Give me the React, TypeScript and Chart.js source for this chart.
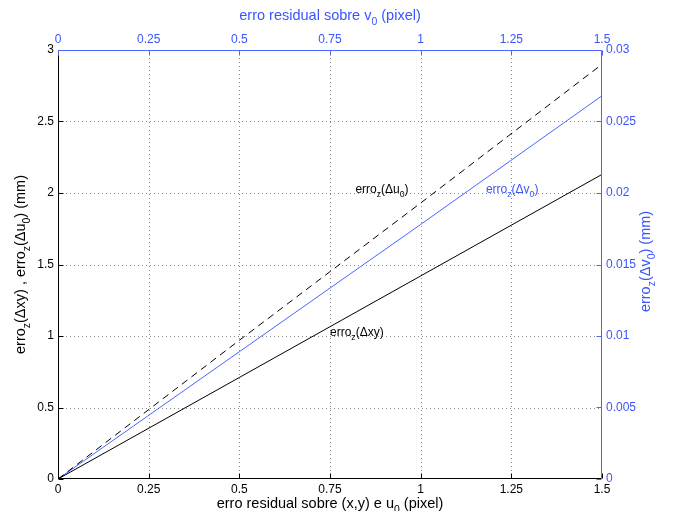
import React, { useEffect, useRef } from "react";
import { Chart, registerables } from "chart.js";

Chart.register(...registerables);

// ---- data ----
const xValues = [0, 0.5, 1, 1.5];
const erroXY = [0, 0.71, 1.42, 2.13];
const erroU0 = [0, 0.97, 1.93, 2.9];
const erroV0 = [0, 0.0089, 0.0178, 0.0268];

const xTicks = [0, 0.25, 0.5, 0.75, 1, 1.25, 1.5];
const leftTicks = [0, 0.5, 1, 1.5, 2, 2.5, 3];
const rightTicks = [0, 0.005, 0.01, 0.015, 0.02, 0.025, 0.03];

type Seg = [string, boolean?];
const bottomTitle: Seg[] = [["erro residual sobre (x,y) e u"], ["0", true], [" (pixel)"]];
const topTitle: Seg[] = [["erro residual sobre v"], ["0", true], [" (pixel)"]];
const leftTitle: Seg[] = [["erro"], ["z", true], ["(\u0394xy) , erro"], ["z", true], ["(\u0394u"], ["0", true], [") (mm)"]];
const rightTitle: Seg[] = [["erro"], ["z", true], ["(\u0394v"], ["0", true], [") (mm)"]];
const labelU0: Seg[] = [["erro"], ["z", true], ["(\u0394u"], ["0", true], [")"]];
const labelV0: Seg[] = [["erro"], ["z", true], ["(\u0394v"], ["0", true], [")"]];
const labelXY: Seg[] = [["erro"], ["z", true], ["(\u0394xy)"]];

const FONT = "'Liberation Sans', Arial, Helvetica, sans-serif";
const BLUE = "#3a55ff";
const BLUE_LINE = "#4a66ff";

const fmt = (v: any) => String(+Number(v).toFixed(4));

function drawRich(
  ctx: CanvasRenderingContext2D,
  segs: Seg[],
  x: number,
  y: number,
  align: "left" | "center",
  size: number,
  color: string
) {
  const subSize = size * 0.72;
  let total = 0;
  const widths = segs.map(([t, sub]) => {
    ctx.font = `${sub ? subSize : size}px ${FONT}`;
    const w = ctx.measureText(t).width;
    total += w;
    return w;
  });
  let cx = align === "center" ? x - total / 2 : x;
  ctx.fillStyle = color;
  ctx.textAlign = "left";
  ctx.textBaseline = "alphabetic";
  segs.forEach(([t, sub], i) => {
    ctx.font = `${sub ? subSize : size}px ${FONT}`;
    ctx.fillText(t, cx, sub ? y + size * 0.32 : y);
    cx += widths[i];
  });
}

const framePlugin = {
  id: "matlabFrame",
  beforeDatasetsDraw(chart: any) {
    const { ctx, chartArea: a, scales } = chart;
    ctx.save();
    ctx.strokeStyle = "#8a8a8a";
    ctx.lineWidth = 1;
    ctx.setLineDash([1, 3]);
    xTicks.slice(1, -1).forEach((v) => {
      const px = Math.round(scales.x.getPixelForValue(v)) + 0.5;
      ctx.beginPath();
      ctx.moveTo(px, a.top);
      ctx.lineTo(px, a.bottom);
      ctx.stroke();
    });
    leftTicks.slice(1, -1).forEach((v) => {
      const py = Math.round(scales.y.getPixelForValue(v)) + 0.5;
      ctx.beginPath();
      ctx.moveTo(a.left, py);
      ctx.lineTo(a.right, py);
      ctx.stroke();
    });
    ctx.restore();
  },
  afterDatasetsDraw(chart: any) {
    const { ctx, chartArea: a, scales } = chart;
    const L = Math.round(a.left) + 0.5;
    const R = Math.round(a.right) - 0.5;
    const T = Math.round(a.top) + 0.5;
    const B = Math.round(a.bottom) - 0.5;
    const tl = 5;
    ctx.save();
    ctx.setLineDash([]);
    ctx.lineWidth = 1;
    // bottom + left (black)
    ctx.strokeStyle = "#000";
    ctx.beginPath();
    ctx.moveTo(L, T);
    ctx.lineTo(L, B);
    ctx.lineTo(R, B);
    xTicks.forEach((v) => {
      const px = Math.round(scales.x.getPixelForValue(v)) + 0.5;
      ctx.moveTo(px, B);
      ctx.lineTo(px, B - tl);
    });
    leftTicks.forEach((v) => {
      const py = Math.round(scales.y.getPixelForValue(v)) + 0.5;
      ctx.moveTo(L, py);
      ctx.lineTo(L + tl, py);
    });
    ctx.stroke();
    // top + right (blue)
    ctx.strokeStyle = BLUE_LINE;
    ctx.beginPath();
    ctx.moveTo(L, T);
    ctx.lineTo(R, T);
    ctx.lineTo(R, B);
    xTicks.forEach((v) => {
      const px = Math.round(scales.x2.getPixelForValue(v)) + 0.5;
      ctx.moveTo(px, T);
      ctx.lineTo(px, T + tl);
    });
    rightTicks.forEach((v) => {
      const py = Math.round(scales.y2.getPixelForValue(v)) + 0.5;
      ctx.moveTo(R, py);
      ctx.lineTo(R - tl, py);
    });
    ctx.stroke();

    // axis titles
    const midX = (a.left + a.right) / 2;
    const midY = (a.top + a.bottom) / 2;
    drawRich(ctx, bottomTitle, midX, 508, "center", 14.5, "#000");
    drawRich(ctx, topTitle, midX, 20, "center", 14.5, BLUE);
    ctx.save();
    ctx.translate(20, midY);
    ctx.rotate(-Math.PI / 2);
    drawRich(ctx, leftTitle, 0, 5, "center", 14.5, "#000");
    ctx.restore();
    ctx.save();
    ctx.translate(645, midY - 3);
    ctx.rotate(-Math.PI / 2);
    drawRich(ctx, rightTitle, 0, 5, "center", 14.5, BLUE);
    ctx.restore();

    // in-plot labels
    const sx = scales.x, sy = scales.y;
    drawRich(ctx, labelU0, sx.getPixelForValue(0.82), sy.getPixelForValue(2.0), "left", 12, "#000");
    drawRich(ctx, labelV0, sx.getPixelForValue(1.18), sy.getPixelForValue(2.0), "left", 12, BLUE);
    drawRich(ctx, labelXY, sx.getPixelForValue(0.75), sy.getPixelForValue(1.0), "left", 12, "#000");
    ctx.restore();
  },
};

export default function App() {
  const ref = useRef<HTMLCanvasElement>(null);
  useEffect(() => {
    if (!ref.current) return;
    const tickFont = { family: FONT, size: 12 };
    const chart = new Chart(ref.current, {
      type: "line",
      data: {
        datasets: [
          {
            label: "erro_z(Δxy)",
            data: xValues.map((x, i) => ({ x, y: erroXY[i] })),
            borderColor: "#000",
            borderWidth: 1,
            pointRadius: 0,
            xAxisID: "x",
            yAxisID: "y",
          },
          {
            label: "erro_z(Δu0)",
            data: xValues.map((x, i) => ({ x, y: erroU0[i] })),
            borderColor: "#000",
            borderWidth: 1,
            borderDash: [7, 5],
            pointRadius: 0,
            xAxisID: "x",
            yAxisID: "y",
          },
          {
            label: "erro_z(Δv0)",
            data: xValues.map((x, i) => ({ x, y: erroV0[i] })),
            borderColor: BLUE_LINE,
            borderWidth: 1,
            pointRadius: 0,
            xAxisID: "x2",
            yAxisID: "y2",
          },
        ],
      },
      options: {
        animation: false,
        responsive: false,
        events: [],
        layout: { padding: 0 },
        plugins: { legend: { display: false }, tooltip: { enabled: false } },
        scales: {
          x: {
            type: "linear",
            position: "bottom",
            min: 0,
            max: 1.5,
            afterBuildTicks: (s: any) => { s.ticks = xTicks.map((value) => ({ value })); },
            afterFit: (s: any) => { s.height = 32; },
            grid: { display: false, drawTicks: false },
            border: { display: false },
            ticks: { color: "#000", font: tickFont, padding: 3, maxRotation: 0, autoSkip: false, callback: fmt },
          },
          x2: {
            type: "linear",
            position: "top",
            min: 0,
            max: 1.5,
            afterBuildTicks: (s: any) => { s.ticks = xTicks.map((value) => ({ value })); },
            afterFit: (s: any) => { s.height = 50; },
            grid: { display: false, drawTicks: false },
            border: { display: false },
            ticks: { color: BLUE, font: tickFont, padding: 3, maxRotation: 0, autoSkip: false, callback: fmt },
          },
          y: {
            type: "linear",
            position: "left",
            min: 0,
            max: 3,
            afterBuildTicks: (s: any) => { s.ticks = leftTicks.map((value) => ({ value })); },
            afterFit: (s: any) => { s.width = 58; },
            grid: { display: false, drawTicks: false },
            border: { display: false },
            ticks: { color: "#000", font: tickFont, padding: 4, autoSkip: false, callback: fmt },
          },
          y2: {
            type: "linear",
            position: "right",
            min: 0,
            max: 0.03,
            afterBuildTicks: (s: any) => { s.ticks = rightTicks.map((value) => ({ value })); },
            afterFit: (s: any) => { s.width = 73; },
            grid: { display: false, drawTicks: false },
            border: { display: false },
            ticks: { color: BLUE, font: tickFont, padding: 4, autoSkip: false, callback: fmt },
          },
        },
      },
      plugins: [framePlugin],
    } as any);
    return () => chart.destroy();
  }, []);
  return (
    <div style={{ position: "absolute", left: 0, top: 0, width: 675, height: 511, background: "#fff" }}>
      <canvas ref={ref} width={675} height={511} />
    </div>
  );
}
